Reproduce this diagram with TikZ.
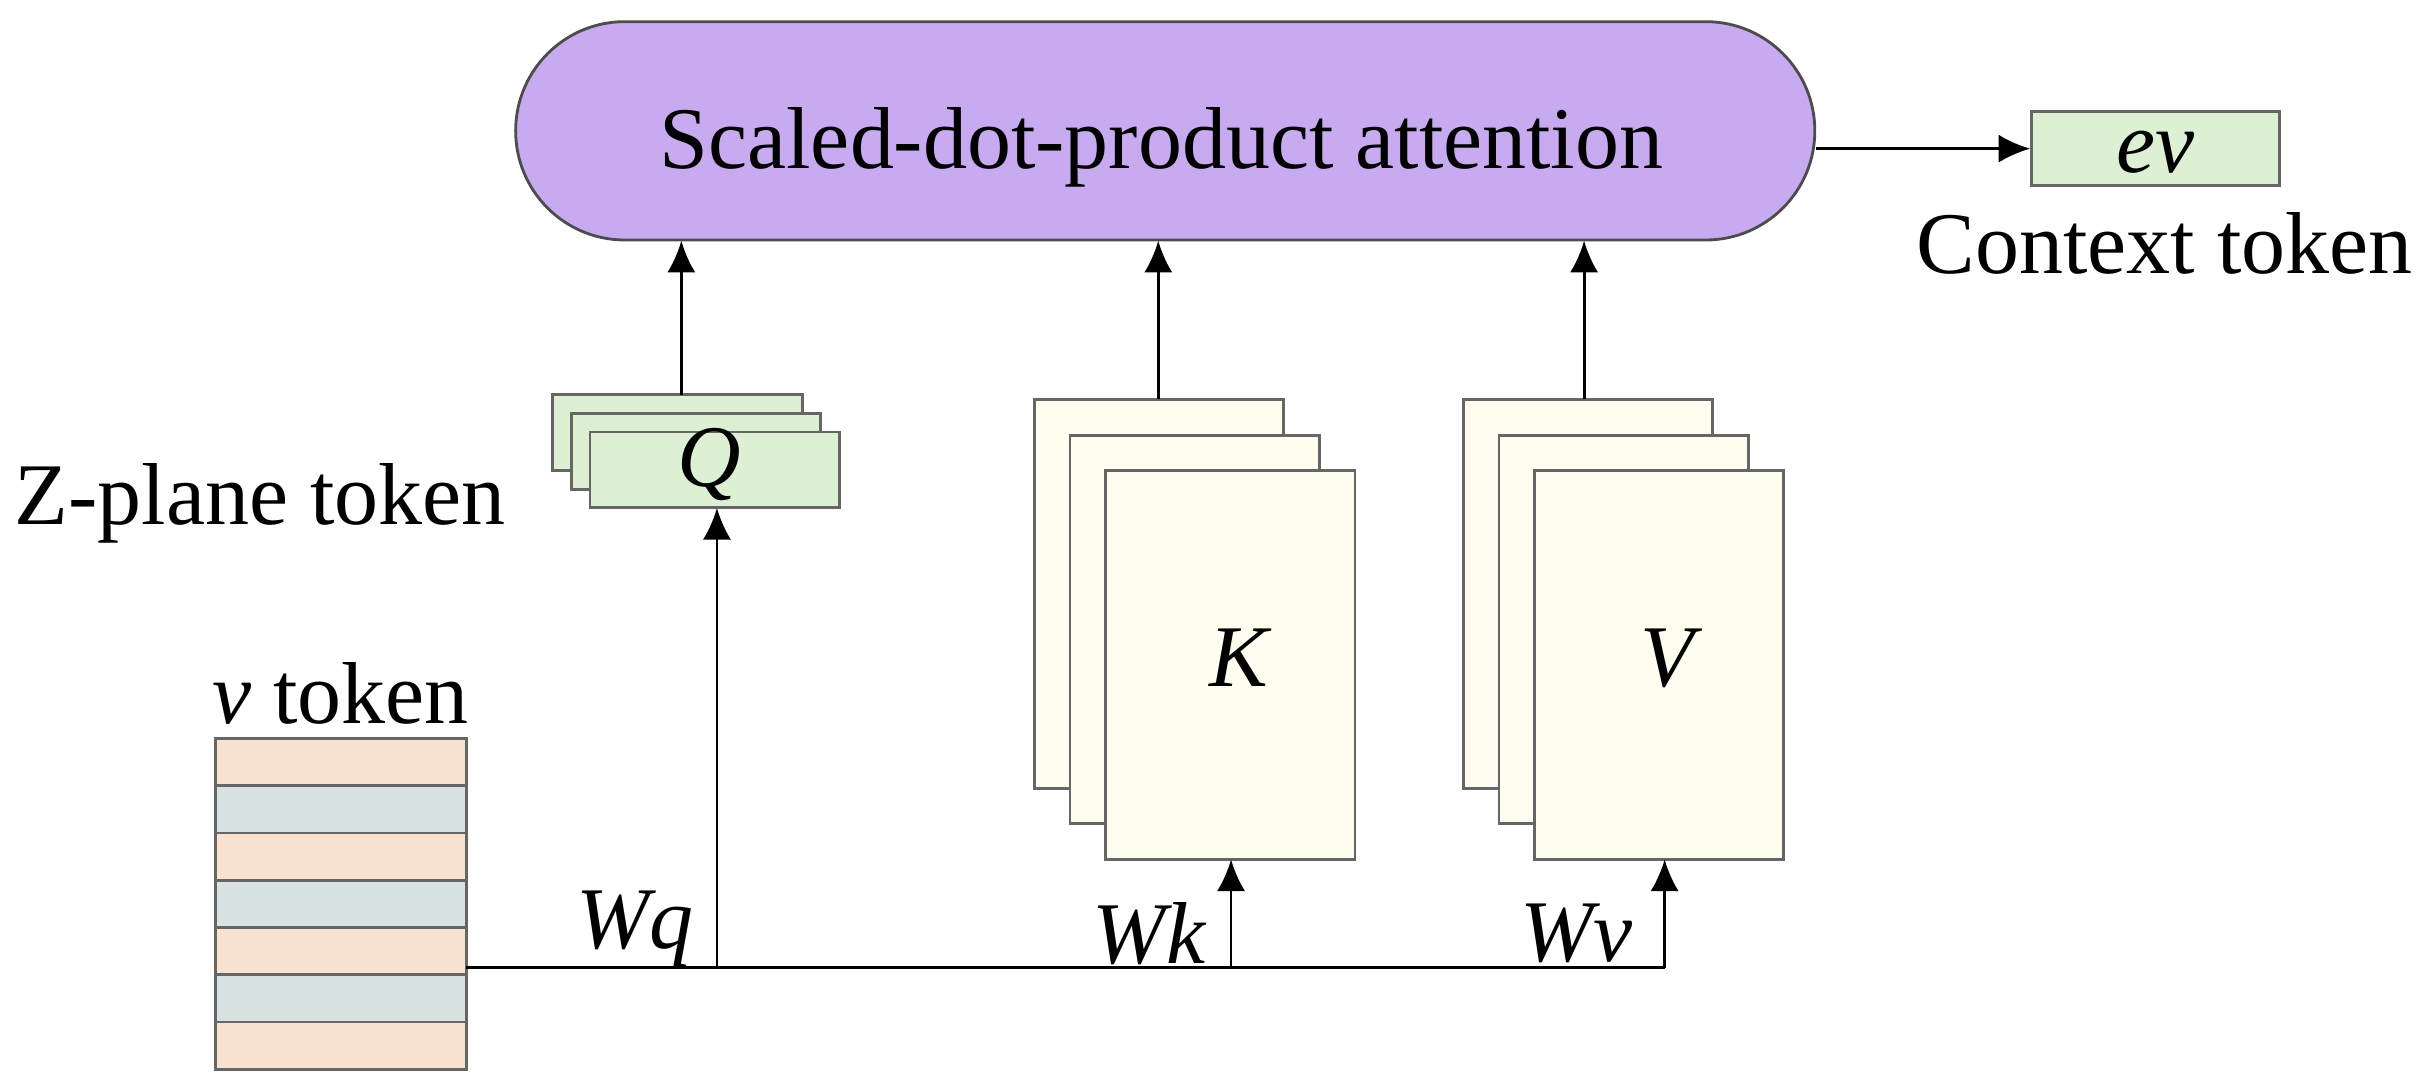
\documentclass[tikz,border=0pt]{standalone}
\usepackage{fontspec}
\setmainfont{Liberation Serif}
\usetikzlibrary{arrows.meta,positioning}
\definecolor{attn}{RGB}{200,170,240}
\definecolor{tokgreen}{RGB}{222,240,212}
\definecolor{cream}{RGB}{255,252,240}
\definecolor{peach}{RGB}{250,226,208}
\definecolor{slate}{RGB}{216,226,226}
\tikzset{
  lbl/.style={font=\fontsize{25}{29}\selectfont, inner sep=0pt},
  mat/.style={draw=black!60, fill=cream, line width=0.8pt},
  tok/.style={draw=black!60, fill=tokgreen, line width=0.8pt},
  arr/.style={-{Latex[length=9pt,width=8pt]}, line width=0.8pt}
}
\begin{document}
\begin{tikzpicture}[x=0.01548cm, y=-0.01548cm]
    \useasboundingbox (0,0) rectangle (1568,704);

    % attention block
    \draw[draw=black!70, fill=attn, rounded corners=1.09cm, line width=0.8pt]
        (333,14) rectangle (1172,155);
    \node[minimum width=839*0.01548cm, minimum height=141*0.01548cm, inner sep=0pt] (attn) at (752.5,84.5) {};
    \node[lbl] at (750,95) {Scaled-dot-product attention};

    % context token
    \node[tok, minimum width=160*0.01548cm, minimum height=48*0.01548cm] (ev) at (1392,96) {};
    \node[lbl] at (1392,98) {\itshape ev};
    \node[lbl] (ctx) at (1398,157) {Context token};
    \draw[arr] (attn.east |- ev) -- (ev.west);

    % Q stack
    \foreach \d in {0,12,24} {
        \draw[tok] (357+\d,255+\d) rectangle (518+\d,304+\d);
    }
    \coordinate (qtop) at (440,255);
    \coordinate (qbot) at (463,328);
    \node[lbl] at (458,300) {\itshape Q};
    \node[lbl] (zp) at (168,325) {Z-plane token};
    \draw[arr] (qtop) -- (qtop |- attn.south);

    % K and V stacks
    \foreach \x/\nm in {668/K,945/V} {
        \foreach \d in {0,23,46} {
            \draw[mat] (\x+\d,258+\d) rectangle (\x+161+\d,509+\d);
        }
    }
    \node[lbl] at (800,425) {\itshape K};
    \node[lbl] at (1077,425) {\itshape V};
    \coordinate (ktop) at (748,258);
    \coordinate (vtop) at (1023,258);
    \draw[arr] (ktop) -- (ktop |- attn.south);
    \draw[arr] (vtop) -- (vtop |- attn.south);

    % v token
    \foreach \i in {0,...,6} {
        \pgfmathsetmacro{\yy}{477+\i*30.5}
        \ifodd\i
            \draw[draw=black!60, fill=slate, line width=0.8pt] (139,\yy) rectangle (301,\yy+30.5);
        \else
            \draw[draw=black!60, fill=peach, line width=0.8pt] (139,\yy) rectangle (301,\yy+30.5);
        \fi
    }
    \node[lbl] (vt) at (220,448) {\itshape v\upshape\ token};

    % projections
    \coordinate (src) at (301,625);
    \coordinate (wv) at (1075,625);
    \draw[line width=0.8pt] (src) -- (wv);
    \draw[arr] (463,625) -- (qbot);
    \draw[arr] (795,625) -- (795,555);
    \draw[arr] (wv) -- (1075,555);
    \node[lbl] at (410,600) {\itshape Wq};
    \node[lbl] at (742,603) {\itshape Wk};
    \node[lbl] at (1018,603) {\itshape Wv};
\end{tikzpicture}
\end{document}
